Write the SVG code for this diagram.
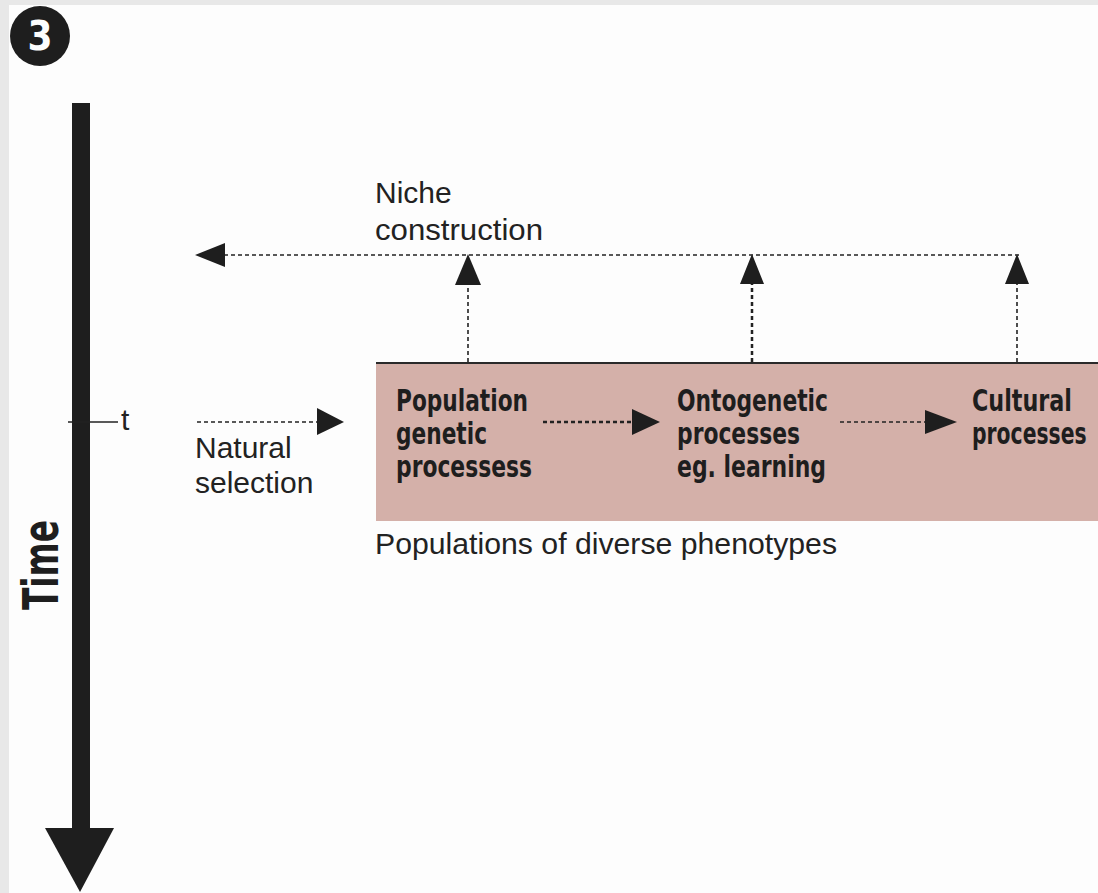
<svg xmlns="http://www.w3.org/2000/svg" width="1098" height="893" viewBox="0 0 1098 893">
<style>
.light{font-family:"Liberation Sans",Arial,sans-serif;font-size:30px;fill:#222;}
.bold{font-family:"Liberation Sans Narrow","DejaVu Sans Condensed","Liberation Sans",sans-serif;font-weight:bold;font-size:31px;fill:#1e1e1e;}
.dash{stroke:#222;stroke-width:1.6;stroke-dasharray:4 3;fill:none;}
.dot{stroke:#222;stroke-width:2.5;stroke-dasharray:4 3;fill:none;}
.head{fill:#1e1e1e;}
</style>
<rect x="0" y="0" width="1098" height="893" fill="#fdfdfd"/>
<rect x="0" y="0" width="1098" height="5" fill="#e8e8e8"/>
<rect x="0" y="0" width="9" height="893" fill="#e8e8e8"/>

<g id="badge">
<circle cx="40" cy="36" r="30" fill="#1e1e1e"/>
<text x="40" y="50" text-anchor="middle" font-family="'Liberation Sans Narrow','DejaVu Sans Condensed','Liberation Sans',sans-serif" font-weight="bold" font-size="40" fill="#fdfdfd">3</text>
</g>

<g id="time-axis">
<rect x="72" y="103" width="18" height="728" fill="#1e1e1e"/>
<polygon points="45,828 114,828 80,892" fill="#1e1e1e"/>
<text transform="translate(58,610) rotate(-90)" font-family="'Liberation Sans Narrow','DejaVu Sans Condensed','Liberation Sans',sans-serif" font-weight="bold" font-size="50" fill="#1e1e1e" textLength="90" lengthAdjust="spacingAndGlyphs">Time</text>
<line x1="68" y1="422" x2="118" y2="422" stroke="#222" stroke-width="1.5"/>
<text class="light" x="121" y="430" font-size="26">t</text>
</g>

<g id="box">
<rect x="376" y="363" width="722" height="158" fill="#d4b0a9"/>
<line x1="376" y1="363" x2="1098" y2="363" stroke="#2a2a2a" stroke-width="2"/>
<text class="light" x="375" y="554" textLength="462" lengthAdjust="spacingAndGlyphs">Populations of diverse phenotypes</text>
</g>

<g id="pop-genetic">
<text class="bold" x="396" y="411" textLength="132" lengthAdjust="spacingAndGlyphs">Population</text>
<text class="bold" x="396" y="444" textLength="91" lengthAdjust="spacingAndGlyphs">genetic</text>
<text class="bold" x="396" y="477" textLength="136" lengthAdjust="spacingAndGlyphs">processess</text>
</g>

<g id="ontogenetic">
<text class="bold" x="677" y="411" textLength="151" lengthAdjust="spacingAndGlyphs">Ontogenetic</text>
<text class="bold" x="677" y="444" textLength="123" lengthAdjust="spacingAndGlyphs">processes</text>
<text class="bold" x="677" y="477" textLength="149" lengthAdjust="spacingAndGlyphs">eg. learning</text>
</g>

<g id="cultural">
<text class="bold" x="972" y="411" textLength="100" lengthAdjust="spacingAndGlyphs">Cultural</text>
<text class="bold" transform="translate(972,444) scale(0.73,1)" x="0" y="0">processes</text>
</g>

<g id="natural-selection">
<text class="light" x="195" y="458">Natural</text>
<text class="light" x="195" y="493">selection</text>
</g>

<g id="niche-construction">
<text class="light" x="375" y="203">Niche</text>
<text class="light" x="375" y="240" textLength="168" lengthAdjust="spacingAndGlyphs">construction</text>
</g>

<g id="connectors">
<line class="dash" x1="197" y1="422" x2="318" y2="422"/>
<polygon class="head" points="317,408 344,422 317,435"/>
<line class="dot" x1="543" y1="422" x2="633" y2="422"/>
<polygon class="head" points="632,409 660,422 632,435"/>
<line class="dash" x1="840" y1="422" x2="926" y2="422"/>
<polygon class="head" points="925,410 957,422 925,434"/>

<line class="dash" x1="224" y1="255" x2="1022" y2="255"/>
<polygon class="head" points="195,255 225,243 225,267"/>

<line class="dash" x1="468" y1="362" x2="468" y2="284"/>
<polygon class="head" points="468,254 455,285 481,285"/>
<line class="dot" x1="752" y1="362" x2="752" y2="283"/>
<polygon class="head" points="752,254 740,284 764,284"/>
<line class="dash" x1="1017" y1="362" x2="1017" y2="283"/>
<polygon class="head" points="1017,254 1005,284 1029,284"/>
</g>
</svg>
